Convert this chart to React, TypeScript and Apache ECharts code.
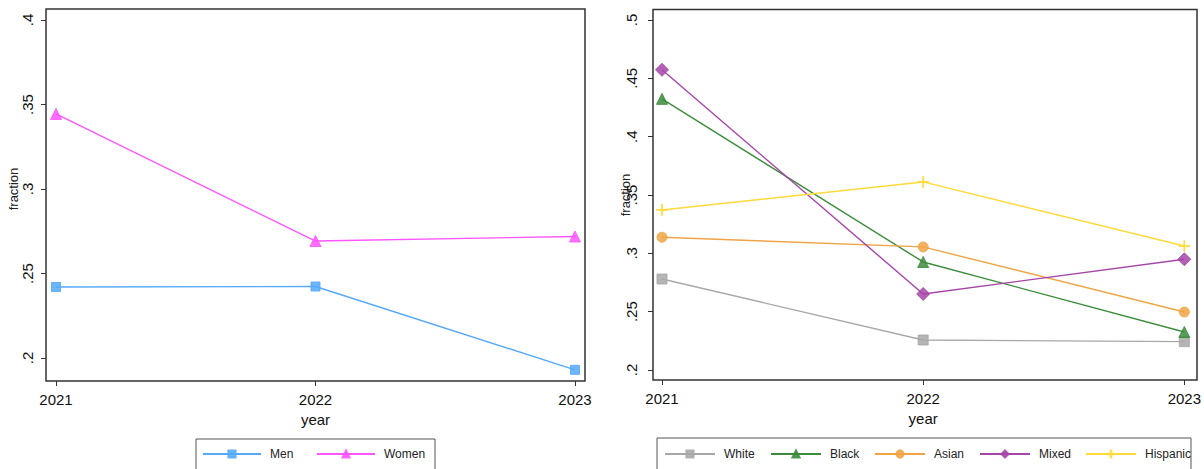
import React, { useEffect, useRef } from "react";
import * as echarts from "echarts";

const years = ["2021", "2022", "2023"];
const men = [0.242, 0.2423, 0.193];
const women = [0.3444, 0.2692, 0.2719];
const white = [0.278, 0.2257, 0.2243];
const black = [0.4324, 0.2926, 0.2326];
const asian = [0.3138, 0.3055, 0.2497];
const mixed = [0.4573, 0.2652, 0.2949];
const hispanic = [0.3372, 0.3612, 0.3063];

const PLUS = "path://M4.6,0H5.4V4.6H10V5.4H5.4V10H4.6V5.4H0V4.6H4.6Z";

const fmt = (v: number) => {
  const s = String(+v.toFixed(2));
  return s.replace(/^0/, "");
};

const AX = "#333";

function mkSeries(name: string, data: number[], color: string, symbol: string, size: number, idx: number) {
  return {
    name,
    type: "line",
    data,
    xAxisIndex: idx,
    yAxisIndex: idx,
    symbol,
    symbolSize: size,
    showSymbol: true,
    clip: false,
    lineStyle: { color, width: 1.4 },
    itemStyle: { color, opacity: 0.85, borderColor: color, borderWidth: 1 },
    emphasis: { disabled: true },
  };
}

function legendItem(name: string, left: number, iconW: number) {
  return {
    data: [name],
    left,
    top: 448,
    padding: 0,
    itemWidth: iconW,
    itemHeight: 9,
    selectedMode: false,
    textStyle: { fontSize: 12, color: "#222", fontFamily: "Liberation Sans, Arial, sans-serif", padding: [0, 0, 0, 4] },
  };
}

export default function App() {
  const ref = useRef<HTMLDivElement>(null);
  useEffect(() => {
    if (!ref.current) return;
    const chart = echarts.init(ref.current, null, { renderer: "svg" });
    const font = "Liberation Sans, Arial, sans-serif";
    const yAxisBase = (min: number, max: number, offset: number, margin: number, nameGap: number) => ({
      type: "value",
      min,
      max,
      interval: 0.05,
      offset,
      axisLine: { show: false },
      axisTick: { show: true, length: 5, lineStyle: { color: AX, width: 1 } },
      splitLine: { show: false },
      axisLabel: { rotate: 90, margin, fontSize: 15, color: "#111", fontFamily: font, formatter: fmt },
      name: "fraction",
      nameLocation: "middle",
      nameRotate: 90,
      nameGap,
      nameMoveOverlap: false,
      nameTextStyle: { fontSize: 13, color: "#222", fontFamily: font },
    });
    const xAxisBase = (gridIndex: number, offset: number) => ({
      type: "category",
      gridIndex,
      data: years,
      boundaryGap: false,
      offset,
      axisLine: { show: false },
      axisTick: { show: true, length: 5, alignWithLabel: true, lineStyle: { color: AX, width: 1 } },
      axisLabel: { margin: 11, fontSize: 15, color: "#111", fontFamily: font },
      splitLine: { show: false },
      name: "year",
      nameLocation: "middle",
      nameGap: 31,
      nameMoveOverlap: false,
      nameTextStyle: { fontSize: 15, color: "#111", fontFamily: font },
    });
    chart.setOption({
      animation: false,
      backgroundColor: "#fff",
      grid: [
        { left: 56, top: 20, width: 519, height: 338 },
        { left: 662, top: 20, width: 525, height: 350 },
      ],
      xAxis: [xAxisBase(0, 23), xAxisBase(1, 10)],
      yAxis: [
        { ...yAxisBase(0.2, 0.4, 10, 11, 26), gridIndex: 0 },
        { ...yAxisBase(0.2, 0.5, 9, 14, 21), gridIndex: 1 },
      ],
      legend: [
        legendItem("Men", 202, 58),
        legendItem("Women", 316, 58),
        legendItem("White", 664, 50),
        legendItem("Black", 770, 50),
        legendItem("Asian", 874, 50),
        legendItem("Mixed", 979, 50),
        legendItem("Hispanic", 1085, 50),
      ],
      graphic: [
        { type: "rect", shape: { x: 46, y: 9, width: 539, height: 372 }, style: { fill: "none", stroke: AX, lineWidth: 1.5 }, silent: true, z: 10 },
        { type: "rect", shape: { x: 653, y: 9.5, width: 544, height: 370.5 }, style: { fill: "none", stroke: AX, lineWidth: 1.5 }, silent: true, z: 10 },
        { type: "rect", shape: { x: 196, y: 439, width: 239, height: 60 }, style: { fill: "none", stroke: "#555", lineWidth: 1 }, silent: true },
        { type: "rect", shape: { x: 657, y: 438, width: 534, height: 60 }, style: { fill: "none", stroke: "#555", lineWidth: 1 }, silent: true },
      ],
      series: [
        mkSeries("Men", men, "#55A9F8", "rect", 9, 0),
        mkSeries("Women", women, "#FF55FF", "triangle", 11, 0),
        mkSeries("White", white, "#A8A8A8", "rect", 10, 1),
        mkSeries("Black", black, "#3C8C3C", "triangle", 11, 1),
        mkSeries("Asian", asian, "#F0A445", "circle", 10, 1),
        mkSeries("Mixed", mixed, "#A545A8", "diamond", 13, 1),
        mkSeries("Hispanic", hispanic, "#FFDA3A", PLUS, 11, 1),
      ],
    });
    return () => chart.dispose();
  }, []);
  return <div ref={ref} style={{ position: "fixed", left: 0, top: 0, width: 1204, height: 469 }} />;
}
